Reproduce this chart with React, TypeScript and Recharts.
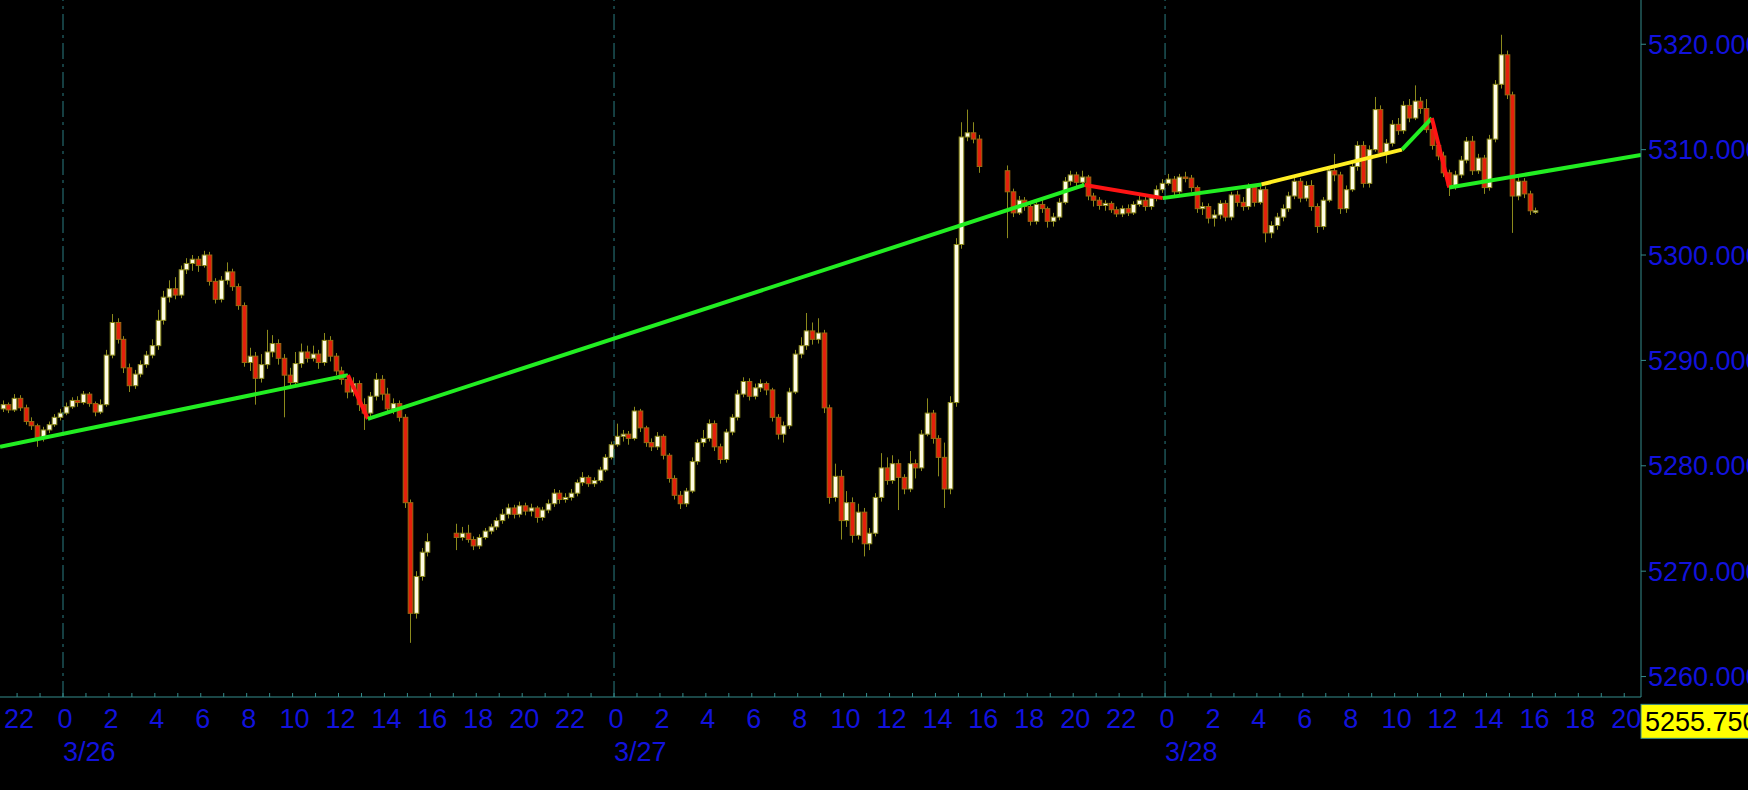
import React from "react";
import { ComposedChart, Bar, Line, XAxis, YAxis, ReferenceLine } from "recharts";

document.body.style.margin = "0";
document.body.style.background = "#000";

const BLUE = "#1212dc";
const AXIS = "#358c8c";
const GRID = "#2a7c82";
const FONT = "'Liberation Sans', Arial, sans-serif";
const BODY_W = 4.6;

// 15-minute bars, times are hours from 3/26 00:00
const SESSION_STARTS = [-2.75, 17, 41];
const FIRST_OPENS = [5285.4, 5273.6, 5308.0];

const CLOSES_1 = [
  5285.8, 5285.3, 5286.4, 5285.5, 5284.2, 5283.8, 5282.6, 5283.4, 5283.9, 5284.6,
  5285.0, 5285.6, 5286.2, 5286.0, 5286.8, 5285.9, 5285.1, 5285.8, 5290.5, 5293.6,
  5292.0, 5289.3, 5287.6, 5288.7, 5289.6, 5290.5, 5291.4, 5293.8, 5296.0, 5296.8,
  5296.2, 5298.6, 5299.2, 5299.6, 5299.0, 5300.0, 5297.5, 5295.8, 5297.6, 5298.4,
  5297.0, 5295.2, 5289.8, 5290.4, 5288.3, 5289.6, 5290.8, 5291.6, 5290.2, 5288.6,
  5287.9, 5289.7, 5290.8, 5290.2, 5290.6, 5289.8, 5291.9, 5290.4, 5289.0, 5288.2,
  5287.0, 5287.8, 5285.8, 5285.0, 5286.6, 5288.2, 5286.8, 5285.4, 5285.9, 5284.6,
  5276.5, 5266.0, 5269.5, 5271.8, 5272.8,
];
const HIGHS_1 = [
  5286.2, 5286.0, 5286.8, 5286.7, 5285.8, 5284.6, 5284.0, 5283.7, 5284.2, 5284.9,
  5285.4, 5286.0, 5286.5, 5286.6, 5287.1, 5287.0, 5286.1, 5286.3, 5291.0, 5294.4,
  5294.0, 5292.3, 5289.7, 5289.1, 5290.0, 5290.9, 5292.0, 5294.8, 5296.6, 5297.6,
  5297.9, 5299.0, 5299.7, 5300.0, 5299.9, 5300.4, 5300.3, 5297.8, 5298.0, 5299.3,
  5298.7, 5297.3, 5295.5, 5291.2, 5290.8, 5290.6, 5292.9, 5292.4, 5292.0, 5290.6,
  5289.3, 5290.8, 5291.6, 5291.4, 5291.4, 5291.0, 5292.6, 5292.3, 5290.7, 5289.4,
  5288.7, 5288.4, 5288.1, 5286.4, 5287.0, 5288.8, 5288.6, 5287.4, 5286.4, 5286.2,
  5284.9, 5276.8, 5270.0, 5272.2, 5273.6,
];
const LOWS_1 = [
  5285.1, 5285.0, 5285.1, 5285.2, 5283.9, 5283.4, 5281.8, 5282.3, 5283.1, 5283.7,
  5284.3, 5284.8, 5285.4, 5285.6, 5285.8, 5285.6, 5284.7, 5284.9, 5285.6, 5290.2,
  5291.6, 5288.8, 5287.0, 5287.3, 5288.4, 5289.3, 5290.2, 5291.0, 5293.4, 5295.5,
  5295.8, 5295.9, 5298.2, 5298.5, 5298.4, 5298.8, 5297.1, 5295.4, 5295.5, 5297.2,
  5296.6, 5294.8, 5289.4, 5289.0, 5285.8, 5287.9, 5289.2, 5290.3, 5289.6, 5284.6,
  5287.5, 5287.5, 5289.3, 5289.8, 5289.9, 5289.2, 5289.5, 5289.9, 5288.6, 5287.7,
  5286.4, 5286.6, 5285.2, 5283.4, 5284.6, 5286.2, 5286.2, 5285.0, 5284.9, 5284.2,
  5276.0, 5263.2, 5265.5, 5269.1, 5271.4,
];

const CLOSES_2 = [
  5273.2, 5273.6, 5273.0, 5272.4, 5273.2, 5273.8, 5274.2, 5274.8, 5275.4, 5276.0,
  5275.4, 5276.2, 5275.7, 5276.0, 5275.1, 5275.8, 5276.4, 5277.4, 5276.8, 5277.0,
  5277.4, 5278.4, 5278.9, 5278.3, 5278.6, 5279.6, 5280.8, 5282.0, 5282.8, 5283.0,
  5282.6, 5285.2, 5283.6, 5282.2, 5281.8, 5282.8, 5281.0, 5278.8, 5277.2, 5276.4,
  5277.6, 5280.4, 5282.2, 5282.6, 5284.0, 5281.8, 5280.6, 5283.2, 5284.6, 5286.8,
  5288.0, 5286.6, 5287.4, 5287.8, 5287.2, 5284.6, 5283.0, 5283.8, 5287.0, 5290.6,
  5291.4, 5292.8, 5292.0, 5292.6, 5285.5, 5277.0, 5279.0, 5274.8, 5276.5, 5273.4,
  5275.6, 5272.6, 5273.6, 5277.0, 5279.8, 5278.6, 5280.2, 5278.9, 5277.8, 5280.2,
  5279.8, 5283.0, 5285.0, 5282.6, 5280.8, 5277.8, 5286.0, 5301.0, 5311.2, 5311.6,
  5311.0, 5308.4,
];
const HIGHS_2 = [
  5274.5, 5274.2, 5274.4, 5273.3, 5273.5, 5274.1, 5274.5, 5275.1, 5275.9, 5276.4,
  5276.3, 5276.6, 5276.5, 5276.4, 5276.2, 5276.1, 5276.8, 5277.8, 5277.7, 5277.4,
  5277.8, 5278.7, 5279.4, 5279.1, 5278.9, 5279.9, 5281.1, 5282.3, 5284.0, 5283.4,
  5283.3, 5285.6, 5285.4, 5283.8, 5282.6, 5283.2, 5283.0, 5281.2, 5279.1, 5277.6,
  5277.9, 5280.8, 5282.5, 5283.4, 5284.4, 5284.3, 5282.1, 5283.5, 5284.9, 5287.2,
  5288.4, 5288.3, 5287.8, 5288.2, 5288.0, 5287.4, 5284.9, 5284.2, 5287.4, 5291.0,
  5292.2, 5294.5, 5293.6, 5294.0, 5292.9, 5285.8, 5280.2, 5279.6, 5277.6, 5277.0,
  5276.4, 5276.0, 5274.1, 5277.4, 5281.2, 5280.8, 5281.0, 5280.6, 5279.2, 5281.4,
  5280.6, 5283.4, 5286.4, 5285.3, 5282.9, 5282.2, 5286.6, 5301.6, 5312.6, 5313.8,
  5312.6, 5311.4,
];
const LOWS_2 = [
  5272.0, 5272.9, 5272.7, 5272.0, 5272.1, 5273.0, 5273.5, 5273.9, 5274.5, 5275.0,
  5275.0, 5275.1, 5275.3, 5275.2, 5274.6, 5274.8, 5275.5, 5276.1, 5276.4, 5276.5,
  5276.7, 5277.1, 5278.1, 5278.0, 5278.0, 5278.4, 5279.4, 5280.6, 5281.8, 5282.3,
  5282.0, 5282.4, 5283.2, 5281.8, 5281.4, 5281.5, 5280.6, 5278.4, 5276.8, 5275.9,
  5276.1, 5277.4, 5280.1, 5281.8, 5282.3, 5281.4, 5280.2, 5280.3, 5282.9, 5284.3,
  5286.5, 5286.2, 5286.3, 5287.0, 5286.7, 5284.2, 5282.5, 5282.2, 5283.5, 5286.8,
  5290.2, 5291.0, 5291.5, 5291.6, 5285.0, 5276.4, 5276.6, 5273.0, 5274.2, 5272.7,
  5273.0, 5271.4, 5272.0, 5273.3, 5276.6, 5278.2, 5278.3, 5275.8, 5277.3, 5277.5,
  5278.8, 5279.5, 5282.8, 5282.1, 5279.0, 5276.0, 5277.3, 5285.6, 5300.6, 5310.8,
  5310.6, 5307.8,
];

const CLOSES_3 = [
  5306.0, 5304.0, 5305.2, 5304.6, 5303.2, 5304.8, 5304.4, 5303.2, 5303.6, 5305.0,
  5307.0, 5307.6, 5306.9, 5307.4, 5305.6, 5305.2, 5304.7, 5304.9, 5304.3, 5303.9,
  5304.4, 5304.0, 5304.8, 5305.2, 5304.6, 5305.4, 5306.2, 5306.8, 5307.2, 5306.0,
  5307.4, 5307.3, 5306.4, 5304.4, 5304.6, 5303.5, 5303.8, 5304.9, 5303.6, 5305.7,
  5305.0, 5304.6, 5306.4, 5305.0, 5306.2, 5302.1, 5302.8, 5303.6, 5304.4, 5305.6,
  5307.0, 5305.4, 5306.6, 5304.6, 5302.7, 5305.2, 5308.0, 5307.6, 5304.4, 5306.2,
  5308.4, 5310.4, 5306.8, 5310.0, 5313.8, 5309.7, 5310.6, 5312.4, 5311.8, 5314.2,
  5313.0, 5314.6, 5313.9, 5311.9, 5310.4, 5309.4, 5307.8, 5306.6, 5307.6, 5309.0,
  5310.8, 5308.0, 5309.2, 5306.4, 5311.0, 5316.2, 5319.0, 5315.2, 5305.6, 5307.0,
  5305.8, 5304.2, 5304.2,
];
const HIGHS_3 = [
  5308.5, 5306.3, 5305.6, 5305.5, 5304.9, 5305.2, 5305.3, 5304.6, 5304.0, 5305.4,
  5307.4, 5308.0, 5307.9, 5308.0, 5307.6, 5305.9, 5305.5, 5305.2, 5305.1, 5304.6,
  5304.7, 5304.8, 5305.1, 5305.6, 5305.5, 5305.7, 5306.6, 5307.2, 5307.7, 5307.5,
  5307.7, 5307.9, 5307.6, 5306.6, 5305.0, 5304.9, 5304.3, 5305.2, 5305.2, 5306.0,
  5306.1, 5305.5, 5306.8, 5306.7, 5306.6, 5306.5, 5303.2, 5304.0, 5304.8, 5306.0,
  5307.4, 5307.3, 5307.0, 5307.1, 5304.9, 5305.5, 5308.4, 5309.6, 5307.9, 5306.6,
  5308.8, 5310.8, 5310.8, 5310.4, 5315.0, 5314.2, 5311.0, 5312.8, 5313.0, 5314.6,
  5314.8, 5316.1, 5315.0, 5314.8, 5312.2, 5310.8, 5309.8, 5308.1, 5308.0, 5309.4,
  5311.2, 5311.3, 5309.6, 5309.5, 5311.4, 5316.6, 5320.9, 5319.4, 5315.5, 5307.4,
  5307.3, 5306.1, 5304.5,
];
const LOWS_3 = [
  5301.6, 5303.6, 5303.8, 5304.2, 5302.8, 5302.9, 5304.0, 5302.6, 5302.7, 5303.3,
  5304.8, 5306.6, 5306.5, 5306.6, 5305.2, 5304.6, 5304.3, 5304.2, 5304.0, 5303.6,
  5303.6, 5303.7, 5303.8, 5304.6, 5304.2, 5304.3, 5305.1, 5305.9, 5306.6, 5305.6,
  5305.8, 5306.9, 5306.0, 5304.0, 5303.8, 5303.0, 5302.7, 5303.4, 5303.2, 5303.3,
  5304.6, 5304.2, 5304.3, 5304.6, 5304.8, 5301.2, 5301.6, 5302.4, 5303.2, 5304.1,
  5305.3, 5305.0, 5305.1, 5304.2, 5302.1, 5302.4, 5305.0, 5307.0, 5303.9, 5304.0,
  5306.0, 5308.0, 5306.4, 5306.4, 5309.8, 5309.3, 5308.7, 5310.3, 5311.4, 5311.5,
  5312.6, 5312.8, 5313.4, 5311.6, 5310.0, 5309.0, 5307.4, 5305.6, 5306.2, 5307.3,
  5308.7, 5307.6, 5307.7, 5305.8, 5306.1, 5310.7, 5315.8, 5314.8, 5302.1, 5305.2,
  5305.4, 5303.8, 5303.9,
];

// zigzag swing points (time, price) and the colour of each leg
const ZIGZAG_T = [-2.744, 12.41, 13.28, 44.5, 47.9, 52.2, 58.32, 59.62, 60.38, 68.73];
const ZIGZAG_P = [5281.8, 5288.6, 5284.45, 5306.65, 5305.4, 5306.7, 5310.0, 5313.0, 5306.4, 5309.5];
const LEG_COLORS = ["#22ee22", "#ff1414", "#22ee22", "#ff1414", "#22ee22", "#ffee22", "#22ee22", "#ff1414", "#22ee22"];

const PRICE_TICKS = [5260, 5270, 5280, 5290, 5300, 5310, 5320];
const HOUR_TICKS = Array.from({ length: 71 }, (_, i) => i - 2);
const DAY_LABELS = ["3/26", "3/27", "3/28"];
const LAST_PRICE = 5255.75;

const SESSIONS = [
  [CLOSES_1, HIGHS_1, LOWS_1],
  [CLOSES_2, HIGHS_2, LOWS_2],
  [CLOSES_3, HIGHS_3, LOWS_3],
];

const candles = SESSIONS.flatMap(([closes, highs, lows], s) =>
  closes.map((close, i) => {
    const open = i === 0 ? FIRST_OPENS[s] : closes[i - 1];
    return {
      t: SESSION_STARTS[s] + i * 0.25 + 0.125,
      open,
      close,
      high: Math.max(highs[i], open, close),
      low: Math.min(lows[i], open, close),
    };
  })
);

const legs = LEG_COLORS.map((color, i) => ({
  color,
  data: [
    { t: ZIGZAG_T[i], v: ZIGZAG_P[i] },
    { t: ZIGZAG_T[i + 1], v: ZIGZAG_P[i + 1] },
  ],
}));

function Candle(props: any) {
  const { x, y, width, height } = props;
  const d = props.payload ?? props;
  if (x == null || y == null) return null;
  const top = Math.min(y, y + height);
  const h = Math.abs(height);
  const span = d.high - d.low || 1;
  const py = (v: number) => top + ((d.high - v) / span) * h;
  const cx = Math.round(x + (width || 0) / 2) + 0.5;
  const up = d.close >= d.open;
  const b1 = py(Math.max(d.open, d.close));
  const b2 = py(Math.min(d.open, d.close));
  return (
    <g>
      <line x1={cx} x2={cx} y1={top} y2={top + h} stroke="#8c8a1c" strokeWidth={1} />
      <rect
        x={cx - BODY_W / 2}
        y={b1}
        width={BODY_W}
        height={Math.max(b2 - b1, 1.5)}
        fill={up ? "#fffbe4" : "#e4200c"}
        stroke={up ? "#8c8a1c" : "#9c6a12"}
        strokeWidth={1}
      />
    </g>
  );
}

function HourTick({ x, y, payload }: any) {
  const t = payload.value;
  const h = ((t % 24) + 24) % 24;
  return (
    <g>
      <line x1={x} x2={x} y1={y - 4} y2={y} stroke={AXIS} />
      {h % 2 === 0 && (
        <text x={x + 2} y={y + 31} textAnchor="middle" fill={BLUE} fontSize={27} fontFamily={FONT}>
          {h}
        </text>
      )}
      {h === 0 && (
        <text x={x} y={y + 64} textAnchor="start" fill={BLUE} fontSize={27} fontFamily={FONT}>
          {DAY_LABELS[Math.floor(t / 24)]}
        </text>
      )}
    </g>
  );
}

function PriceTag({ viewBox }: any) {
  if (!viewBox) return null;
  const x = viewBox.x + viewBox.width;
  const y = viewBox.y;
  return (
    <g>
      <rect x={x} y={y - 17} width={120} height={34} fill="#ffff00" stroke={AXIS} />
      <text x={x + 4} y={y + 10} fill="#000" fontSize={27} fontFamily={FONT}>
        {LAST_PRICE.toFixed(3)}
      </text>
    </g>
  );
}

export default function App() {
  return (
    <div style={{ width: 1748, height: 790, background: "#000" }}>
      <ComposedChart
        width={1748}
        height={790}
        data={candles}
        margin={{ top: 0, right: 0, bottom: 0, left: 0 }}
      >
        <XAxis
          dataKey="t"
          type="number"
          domain={[-2.744, 68.73]}
          allowDataOverflow
          ticks={HOUR_TICKS}
          interval={0}
          height={93}
          axisLine={{ stroke: AXIS }}
          tickLine={false}
          tickSize={0}
          tickMargin={0}
          tick={<HourTick />}
        />
        <YAxis
          orientation="right"
          width={107}
          domain={[5258.06, 5324.2]}
          allowDataOverflow
          ticks={PRICE_TICKS}
          interval={0}
          tickFormatter={(v: number) => v.toFixed(3)}
          axisLine={{ stroke: AXIS }}
          tickLine={{ stroke: AXIS }}
          tickSize={5}
          tickMargin={2}
          tick={{ fill: BLUE, fontSize: 27, fontFamily: FONT }}
        />
        {[0, 24, 48].map((d) => (
          <ReferenceLine key={d} x={d} stroke={GRID} strokeDasharray="16 5 3 5" />
        ))}
        <Bar
          dataKey={(d: any) => [d.low, d.high]}
          barSize={5}
          shape={<Candle />}
          isAnimationActive={false}
        />
        {legs.map((leg, i) => (
          <Line
            key={i}
            data={leg.data}
            dataKey="v"
            stroke={leg.color}
            strokeWidth={4}
            dot={false}
            activeDot={false}
            isAnimationActive={false}
          />
        ))}
        <ReferenceLine
          y={LAST_PRICE}
          ifOverflow="visible"
          stroke="none"
          label={(p: any) => <PriceTag {...p} />}
        />
      </ComposedChart>
    </div>
  );
}
